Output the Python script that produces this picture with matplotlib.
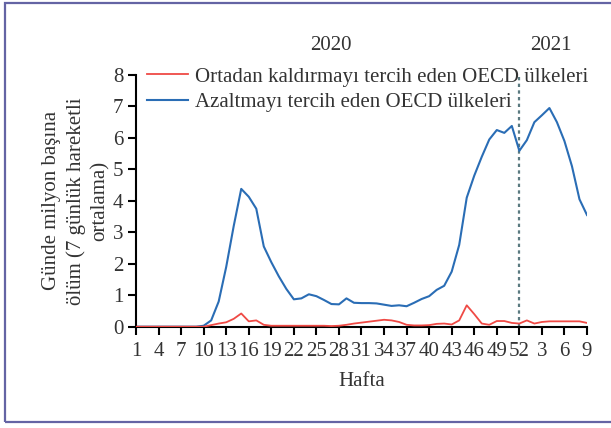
import numpy as np
import matplotlib
matplotlib.use("Agg")
import matplotlib.pyplot as plt
from matplotlib.patches import Rectangle

plt.rcParams['font.family'] = ['Liberation Serif', 'DejaVu Serif']

# weekly 7-day averages, 2020 weeks 1-52 then 2021 weeks 1-9
weeks_2020 = list(range(1, 53))
weeks_2021 = list(range(1, 10))
week_labels = [str(w) for w in weeks_2020 + weeks_2021]

eliminate = [0, 0, 0, 0, 0, 0, 0, 0, 0, 0,
             0.05, 0.1, 0.14, 0.25, 0.42, 0.17, 0.2, 0.06, 0.03, 0.03,
             0.03, 0.03, 0.03, 0.03, 0.03, 0.03, 0.02, 0.03, 0.06, 0.1,
             0.13, 0.16, 0.19, 0.22, 0.2, 0.15, 0.06, 0.04, 0.04, 0.05,
             0.09, 0.1, 0.07, 0.2, 0.68, 0.4, 0.1, 0.06, 0.18, 0.18,
             0.12, 0.1, 0.2, 0.1, 0.15, 0.17, 0.17, 0.17, 0.17, 0.17,
             0.12]
mitigate = [0, 0, 0, 0, 0, 0, 0, 0, 0, 0.03,
            0.2, 0.8, 1.9, 3.2, 4.38, 4.13, 3.75, 2.55, 2.05, 1.6,
            1.2, 0.87, 0.9, 1.03, 0.97, 0.85, 0.72, 0.71, 0.9, 0.76,
            0.75, 0.75, 0.74, 0.7, 0.66, 0.68, 0.65, 0.76, 0.88, 0.97,
            1.17, 1.3, 1.75, 2.6, 4.1, 4.8, 5.4, 5.95, 6.25, 6.16,
            6.38, 5.59, 5.93, 6.5, 6.72, 6.95, 6.5, 5.9, 5.1, 4.05,
            3.55]

names = ["Ortadan kaldırmayı tercih eden OECD ülkeleri",
         "Azaltmayı tercih eden OECD ülkeleri"]
year_break = 51  # index of 2020 week 52

x = np.arange(len(mitigate))
fs = 15

fig = plt.figure(figsize=(6.11, 4.28), dpi=100)
ax = fig.add_axes([0.2226, 0.2367, 0.7381, 0.5881])

ax.plot(x, eliminate, color='#ef4a45', lw=1.3, label=names[0], zorder=3)
ax.plot(x, mitigate, color='#2a6db5', lw=1.5, label=names[1], zorder=2)
ax.axvline(year_break, ymin=0, ymax=1, color='#5b7a80', lw=1.6,
           ls=(0, (1.5, 1.5)), zorder=1)

ax.set_xlim(0, 60)
ax.set_ylim(0, 8)
ax.set_xticks(x[::3])
ax.set_xticklabels(week_labels[::3])
ax.set_yticks(range(9))

for s in ['top', 'right']:
    ax.spines[s].set_visible(False)
for s in ['left', 'bottom']:
    ax.spines[s].set_linewidth(1.5)
ax.tick_params(length=6, width=1.5, labelsize=fs, pad=3, labelcolor='#333333')
ax.tick_params(axis='x', pad=5)

ax.set_ylabel("Günde milyon başına\nölüm (7 günlük hareketli\nortalama)",
              fontsize=fs, color='#333333', labelpad=2, linespacing=1.35)
ax.set_xlabel("Hafta", fontsize=fs, color='#333333', labelpad=8)

ax.text(25.9, 8.95, "2020", ha='center', va='center', fontsize=fs,
        color='#333333', clip_on=False)
ax.text(55.2, 8.95, "2021", ha='center', va='center', fontsize=fs,
        color='#333333', clip_on=False)

leg = ax.legend(loc='upper left', bbox_to_anchor=(0.005, 1.065), frameon=False,
                fontsize=fs, handlelength=2.0, handletextpad=0.3,
                labelspacing=0.3, borderaxespad=0)
for t in leg.get_texts():
    t.set_color('#333333')

fig.add_artist(Rectangle((5 / 611, 6 / 428), 1.0, 419 / 428,
                         transform=fig.transFigure, fill=False,
                         ec='#6464a4', lw=1.6))

fig.savefig("out.png", dpi=100)
